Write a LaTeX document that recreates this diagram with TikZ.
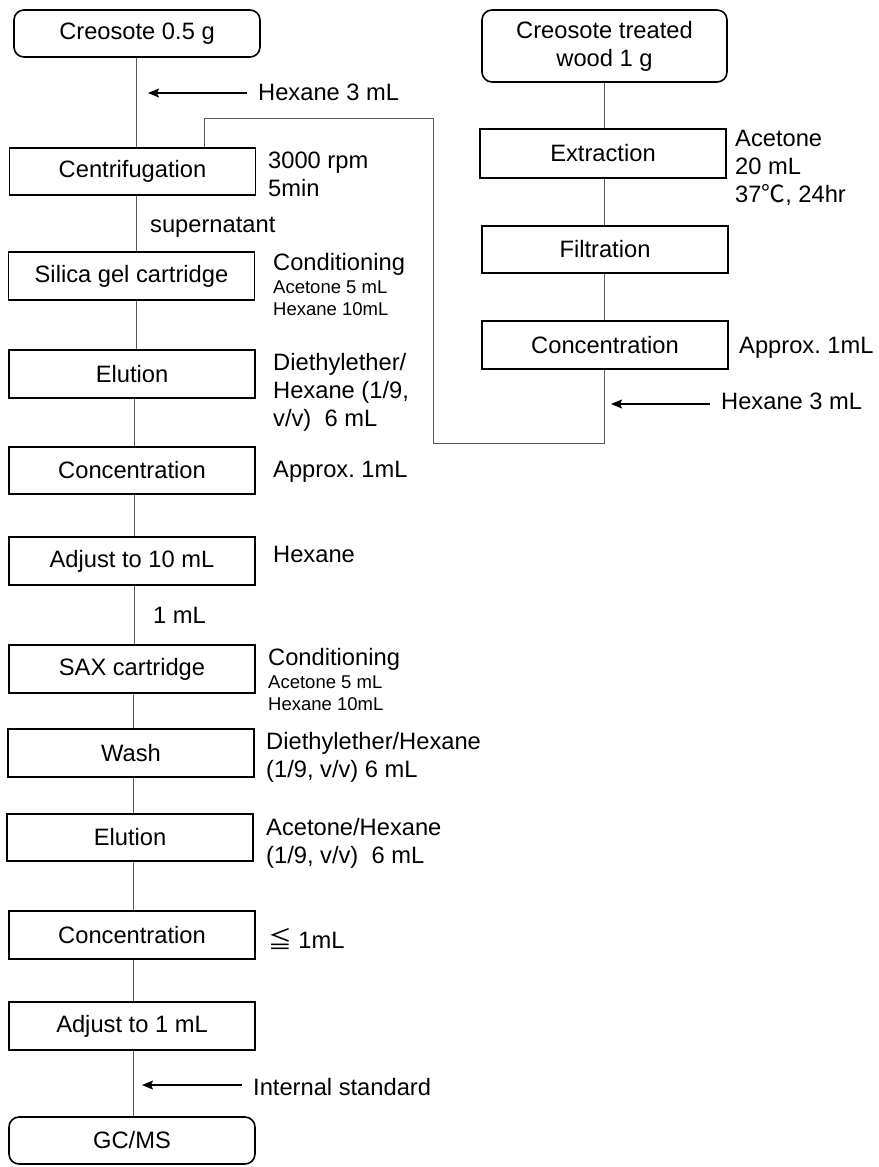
\documentclass[tikz,border=0pt]{standalone}
\usepackage{fontspec}
\setmainfont{Liberation Sans}
\newfontfamily\cjk{Noto Sans CJK JP}
\usetikzlibrary{arrows.meta}
\newcommand{\bigsz}{\fontsize{23.7}{28}\selectfont}
\newcommand{\smallsz}{\fontsize{18.5}{22}\selectfont}
\frenchspacing
\begin{document}
\begin{tikzpicture}[x=1pt,y=-1pt,
 box/.style={draw=black, line width=1.6pt, minimum width=246pt, minimum height=47pt, inner sep=0pt, font=\bigsz, align=center},
 rbox/.style={box, rounded corners=10pt},
 lab/.style={anchor=base west, inner sep=0pt, font=\bigsz, align=left},
 slab/.style={lab, font=\smallsz},
 conn/.style={draw=black!65, line width=0.9pt},
 arr/.style={draw=black, line width=1.5pt, -{Stealth[length=11pt,width=9pt,inset=2pt]}}
]
\useasboundingbox (0,0) rectangle (878,1167);

% left column
\node[rbox] (c05) at (137,33.5) {Creosote 0.5 g};
\node[box] (cent) at (132.5,171.5) {Centrifugation};
\node[box, minimum height=48pt] (sil) at (131.5,276) {Silica gel cartridge};
\node[box, minimum height=48pt] (elu1) at (132,374) {Elution};
\node[box] (conc1) at (132,470.5) {Concentration};
\node[box, minimum height=48pt] (adj10) at (132,561) {Adjust to 10 mL};
\node[box, minimum height=48pt] (sax) at (132,669) {SAX cartridge};
\node[box, minimum height=48pt] (wash) at (131,753) {Wash};
\node[box] (elu2) at (130,837.5) {Elution};
\node[box, minimum height=48pt] (conc2) at (132,935) {Concentration};
\node[box, minimum height=48pt] (adj1) at (132,1026) {Adjust to 1 mL};
\node[rbox] (gcms) at (132,1140.5) {GC/MS};

% right column
\node[rbox, minimum width=245pt, minimum height=72pt, align=center] (wood) at (604.5,46) {Creosote treated\\wood 1 g};
\node[box, minimum height=49pt] (ext) at (603,153.5) {Extraction};
\node[box] (filt) at (605,249.5) {Filtration};
\node[box, minimum height=48pt] (conc3) at (605,345) {Concentration};

% vertical line positions
\coordinate (xa) at (136,0);
\coordinate (xb) at (134.5,0);
\coordinate (xc) at (133,0);
\coordinate (xr) at (604,0);

\draw[conn] (c05.south -| xa) -- (cent.north -| xa);
\draw[conn] (cent.south -| xa) -- (sil.north -| xa);
\draw[conn] (sil.south -| xa) -- (elu1.north -| xa);
\draw[conn] (elu1.south -| xb) -- (conc1.north -| xb);
\draw[conn] (conc1.south -| xb) -- (adj10.north -| xb);
\draw[conn] (adj10.south -| xb) -- (sax.north -| xb);
\draw[conn] (sax.south -| xc) -- (wash.north -| xc);
\draw[conn] (wash.south -| xc) -- (elu2.north -| xc);
\draw[conn] (elu2.south -| xc) -- (conc2.north -| xc);
\draw[conn] (conc2.south -| xc) -- (adj1.north -| xc);
\draw[conn] (adj1.south -| xc) -- (gcms.north -| xc);

\draw[conn] (wood.south -| xr) -- (ext.north -| xr);
\draw[conn] (ext.south -| xr) -- (filt.north -| xr);
\draw[conn] (filt.south -| xr) -- (conc3.north -| xr);

% transfer connector
\coordinate (k1) at (604,443);
\coordinate (k2) at (433,443);
\coordinate (k3) at (433,118);
\coordinate (k4) at (204,118);
\draw[conn] (conc3.south -| k1) -- (k1) -- (k2) -- (k3) -- (k4) -- (cent.north -| k4);

% labels left (base = baseline of last line)
\node[lab] (hex1) at (258,100) {Hexane 3 mL};
\coordinate (h1tail) at (247,93);
\coordinate (h1tip) at (148,93);
\draw[arr] (h1tail) -- (h1tip);

\node[lab] (rpm) at (268,196) {3000 rpm\\5min};
\node[lab] (sup) at (150,232) {supernatant};
\node[lab] (cond1) at (273,270) {Conditioning};
\node[slab] (cond1s) at (273,315) {Acetone 5 mL\\Hexane 10mL};
\node[lab] (de1) at (273,426) {Diethylether/\\Hexane (1/9,\\v/v)\ \ 6 mL};
\node[lab] (ap1) at (273,477) {Approx. 1mL};
\node[lab] (hx10) at (273,562) {Hexane};
\node[lab] (one) at (153,623) {1 mL};
\node[lab] (cond2) at (268,665) {Conditioning};
\node[slab] (cond2s) at (268,710) {Acetone 5 mL\\Hexane 10mL};
\node[lab] (de2) at (266,777) {Diethylether/Hexane\\(1/9, v/v) 6 mL};
\node[lab] (ah) at (266,863) {Acetone/Hexane\\(1/9, v/v)\ \ 6 mL};
\node[lab] (le) at (268,948) {{\cjk ≦} 1mL};
\node[lab] (istd) at (253,1095) {Internal standard};
\coordinate (istail) at (242,1085);
\coordinate (istip) at (142,1085);
\draw[arr] (istail) -- (istip);

% labels right
\node[lab] (acet) at (735,202) {Acetone\\20 mL\\37{\cjk ℃}, 24hr};
\node[lab] (ap3) at (739,353) {Approx. 1mL};
\node[lab] (hex2) at (721,409) {Hexane 3 mL};
\coordinate (h2tail) at (710,404);
\coordinate (h2tip) at (611,404);
\draw[arr] (h2tail) -- (h2tip);
\end{tikzpicture}
\end{document}
